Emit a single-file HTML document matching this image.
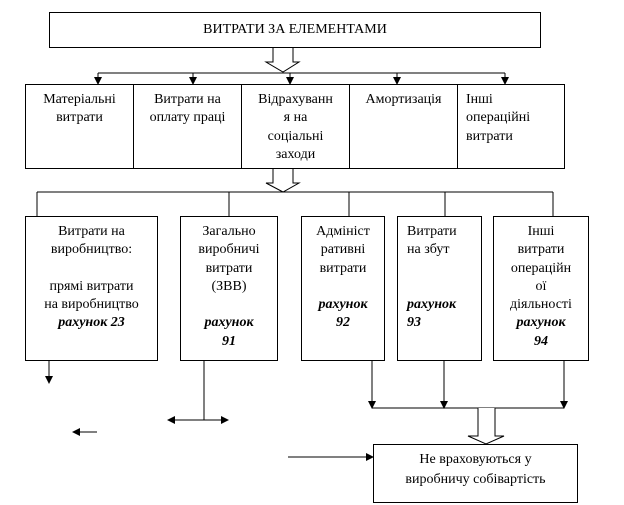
<!DOCTYPE html>
<html><head><meta charset="utf-8"><style>
body{margin:0;width:624px;height:505px;background:#fff;position:relative;overflow:hidden;font-family:"Liberation Serif","DejaVu Serif",serif;font-size:14px;color:#000}
.b{position:absolute;border:1px solid #000;box-sizing:border-box;line-height:18.3px;text-align:center;padding-top:6px}
.l{text-align:left;padding-left:8px}
b{font-style:italic}
svg{position:absolute;left:0;top:0}
</style></head><body>
<svg width="624" height="505">
<defs><marker id="a" markerWidth="8" markerHeight="8" refX="7" refY="4" orient="auto" markerUnits="userSpaceOnUse"><path d="M0,0 L8,4 L0,8z"/></marker></defs>
<g stroke="#000" stroke-width="1" fill="none">
<path d="M273,48 V62 H266 L283,72 L299,62 H293 V48" fill="#fff"/>
<line x1="98" y1="73" x2="505" y2="73"/>
<line x1="98" y1="73" x2="98" y2="84" marker-end="url(#a)"/>
<line x1="193" y1="73" x2="193" y2="84" marker-end="url(#a)"/>
<line x1="290" y1="73" x2="290" y2="84" marker-end="url(#a)"/>
<line x1="397" y1="73" x2="397" y2="84" marker-end="url(#a)"/>
<line x1="505" y1="73" x2="505" y2="84" marker-end="url(#a)"/>
<path d="M273,168 V183 H266 L283,192 L299,183 H293 V168" fill="#fff"/>
<line x1="37" y1="192" x2="553" y2="192"/>
<line x1="37" y1="192" x2="37" y2="216"/>
<line x1="229" y1="192" x2="229" y2="216"/>
<line x1="349" y1="192" x2="349" y2="216"/>
<line x1="445" y1="192" x2="445" y2="216"/>
<line x1="553" y1="192" x2="553" y2="216"/>
<line x1="49" y1="360" x2="49" y2="383" marker-end="url(#a)"/>
<line x1="204" y1="360" x2="204" y2="420"/>
<line x1="204" y1="420" x2="228" y2="420" marker-end="url(#a)"/>
<line x1="204" y1="420" x2="168" y2="420" marker-end="url(#a)"/>
<line x1="97" y1="432" x2="73" y2="432" marker-end="url(#a)"/>
<line x1="372" y1="360" x2="372" y2="408" marker-end="url(#a)"/>
<line x1="444" y1="360" x2="444" y2="408" marker-end="url(#a)"/>
<line x1="564" y1="360" x2="564" y2="408" marker-end="url(#a)"/>
<line x1="372" y1="408" x2="564" y2="408"/>
<path d="M478,408 V436 H468 L486,444 L504,436 H495 V408" fill="#fff"/>
<line x1="288" y1="457" x2="373" y2="457" marker-end="url(#a)"/>
</g></svg>
<div class="b" style="left:49px;top:12px;width:492px;height:36px;padding-top:8px">ВИТРАТИ ЗА ЕЛЕМЕНТАМИ</div>
<div class="b" style="left:25px;top:84px;width:109px;height:85px">Матеріальні<br>витрати</div>
<div class="b" style="left:133px;top:84px;width:109px;height:85px">Витрати на<br>оплату праці</div>
<div class="b" style="left:241px;top:84px;width:109px;height:85px">Відрахуванн<br>я на<br>соціальні<br>заходи</div>
<div class="b" style="left:349px;top:84px;width:109px;height:85px">Амортизація</div>
<div class="b l" style="left:457px;top:84px;width:108px;height:85px">Інші<br>операційні<br>витрати</div>
<div class="b" style="left:25px;top:216px;width:133px;height:145px">Витрати на<br>виробництво:<br><br>прямі витрати<br>на виробництво<br><b>рахунок 23</b></div>
<div class="b" style="left:180px;top:216px;width:98px;height:145px">Загально<br>виробничі<br>витрати<br>(ЗВВ)<br><br><b>рахунок<br>91</b></div>
<div class="b" style="left:301px;top:216px;width:84px;height:145px">Адмініст<br>ративні<br>витрати<br><br><b>рахунок<br>92</b></div>
<div class="b l" style="left:397px;top:216px;width:85px;height:145px;padding-left:9px">Витрати<br>на збут<br><br><br><b>рахунок<br>93</b></div>
<div class="b" style="left:493px;top:216px;width:96px;height:145px">Інші<br>витрати<br>операційн<br>ої<br>діяльності<br><b>рахунок<br>94</b></div>
<div class="b" style="left:373px;top:444px;width:205px;height:59px;line-height:20px;padding-top:5px">Не враховуються у<br>виробничу собівартість</div>
</body></html>
